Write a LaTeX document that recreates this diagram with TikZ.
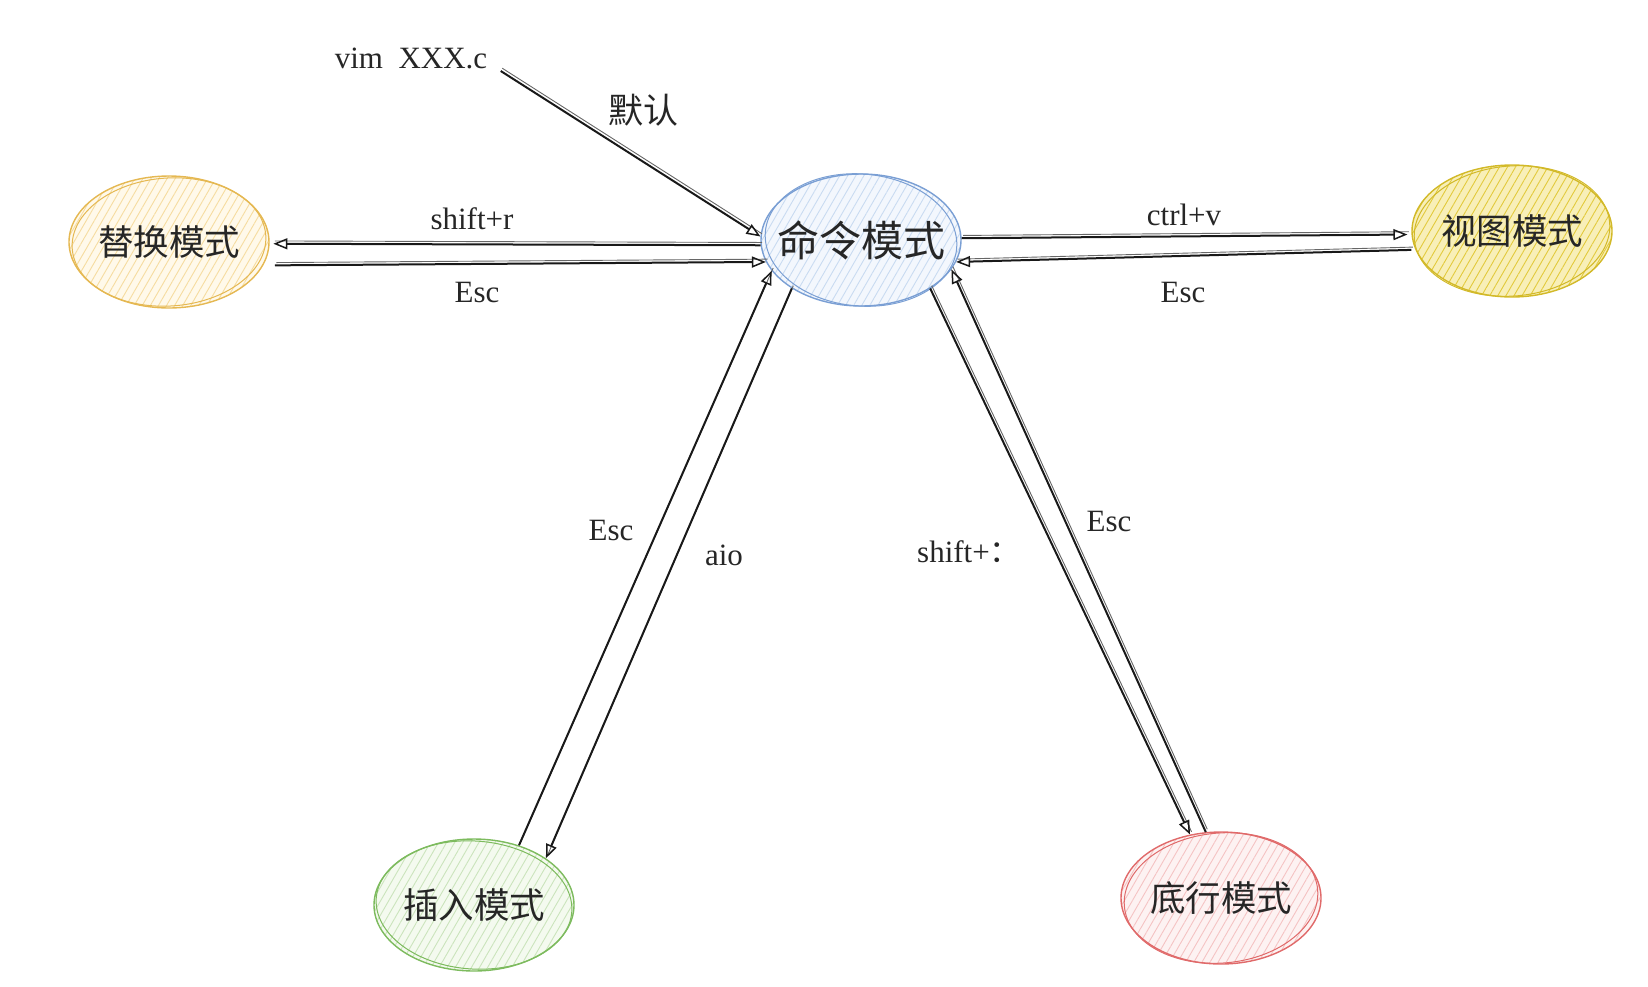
\documentclass[tikz,border=0pt]{standalone}
\usepackage{fontspec}
\setmainfont{Liberation Serif}
\newfontfamily\cjk{Noto Sans CJK SC}
\usetikzlibrary{shapes.geometric,arrows.meta,patterns.meta}
\definecolor{repB}{HTML}{E5B852}\definecolor{repH}{HTML}{F6DCA0}\definecolor{repF}{HTML}{FFF9EA}
\definecolor{cmdB}{HTML}{7A9FD4}\definecolor{cmdH}{HTML}{C9DBF1}\definecolor{cmdF}{HTML}{F3F7FD}
\definecolor{viewB}{HTML}{D2B928}\definecolor{viewH}{HTML}{E2CA3C}\definecolor{viewF}{HTML}{F8EFB8}
\definecolor{insB}{HTML}{7DBB5E}\definecolor{insH}{HTML}{CBE4BC}\definecolor{insF}{HTML}{F4FAEF}
\definecolor{botB}{HTML}{E06A6A}\definecolor{botH}{HTML}{F5C3C3}\definecolor{botF}{HTML}{FDF2F2}
\newcommand{\modetext}[1]{\makebox[100pt]{#1}}
\begin{document}
\begin{tikzpicture}[x=1pt,y=-1pt,
  mode/.style={ellipse, minimum width=200pt, minimum height=132pt, inner sep=0pt,
    font=\cjk\fontsize{35.5}{40}\selectfont, text=black!85, line width=1.4pt},
  hatch/.style 2 args={draw=#1, preaction={fill=#2},
    pattern={Lines[angle=60,distance=7pt,line width=0.9pt]}},
  sketch/.style={line width=1pt},
  lbl/.style={font=\fontsize{31}{34}\selectfont, text=black!85},
  conn/.style={draw=black!90, line width=2pt,
    -{Triangle[open,length=14pt,width=11pt,line width=1.5pt]},
    preaction={draw=black!60, line width=0.9pt, -, transform canvas={shift={(1.5pt,2.8pt)}}}}
]
\useasboundingbox (0,0) rectangle (1648,986);

% nodes
\node[mode, hatch={repB}{repF}, pattern color=repH] (rep) at (169,242) {\modetext{替换模式}};
\node[mode, hatch={cmdB}{cmdF}, pattern color=cmdH, font=\cjk\fontsize{42}{46}\selectfont] (cmd) at (861,240) {\modetext{命令模式}};
\node[mode, hatch={viewB}{viewF}, pattern color=viewH] (view) at (1512,231) {\modetext{视图模式}};
\node[mode, hatch={insB}{insF}, pattern color=insH] (ins) at (474,905) {\modetext{插入模式}};
\node[mode, hatch={botB}{botF}, pattern color=botH] (bot) at (1221,898) {\modetext{底行模式}};

% sketchy second outlines
\draw[sketch, repB] (rep.center) ellipse [x radius=97, y radius=64, rotate=4];
\draw[sketch, cmdB] (cmd.center) ellipse [x radius=96, y radius=66, rotate=-5];
\draw[sketch, viewB] (view.center) ellipse [x radius=98, y radius=65, rotate=5];
\draw[sketch, insB] (ins.center) ellipse [x radius=98, y radius=64, rotate=-4];
\draw[sketch, botB] (bot.center) ellipse [x radius=97, y radius=65, rotate=5];

% labels
\node[lbl] (vim) at (411,58) {vim\ \ XXX.c};
\node[font=\cjk\fontsize{35}{38}\selectfont, text=black!85] (def) at (643,110) {默认};
\node[lbl] (lshr) at (472,219) {shift+r};
\node[lbl] (lesc1) at (477,292) {Esc};
\node[lbl] (lctv) at (1184,215) {ctrl+v};
\node[lbl] (lesc2) at (1183,292) {Esc};
\node[lbl] (lesc3) at (611,530) {Esc};
\node[lbl] (laio) at (724,555) {aio};
\node[lbl] (lsh) at (969,552) {shift+{\cjk ：}};
\node[lbl] (lesc4) at (1109,521) {Esc};

% connectors
\draw[conn] ([shift={(10pt,-13pt)}]vim.east) -- (cmd.178);
\draw[conn] (cmd.183) -- ([xshift=4pt]rep.-1);
\draw[conn, shorten <=12pt] (rep.-14) -- (cmd.193);
\draw[conn] (cmd.1) -- ([xshift=-4pt]view.182);
\draw[conn, shorten <=4pt] (view.191) -- (cmd.-13);
\draw[conn] (ins.53) -- (cmd.199);
\draw[conn] (cmd.215) -- (ins.33);
\draw[conn] (cmd.-35) -- (bot.116);
\draw[conn] (bot.103) -- (cmd.-18);
\end{tikzpicture}
\end{document}
